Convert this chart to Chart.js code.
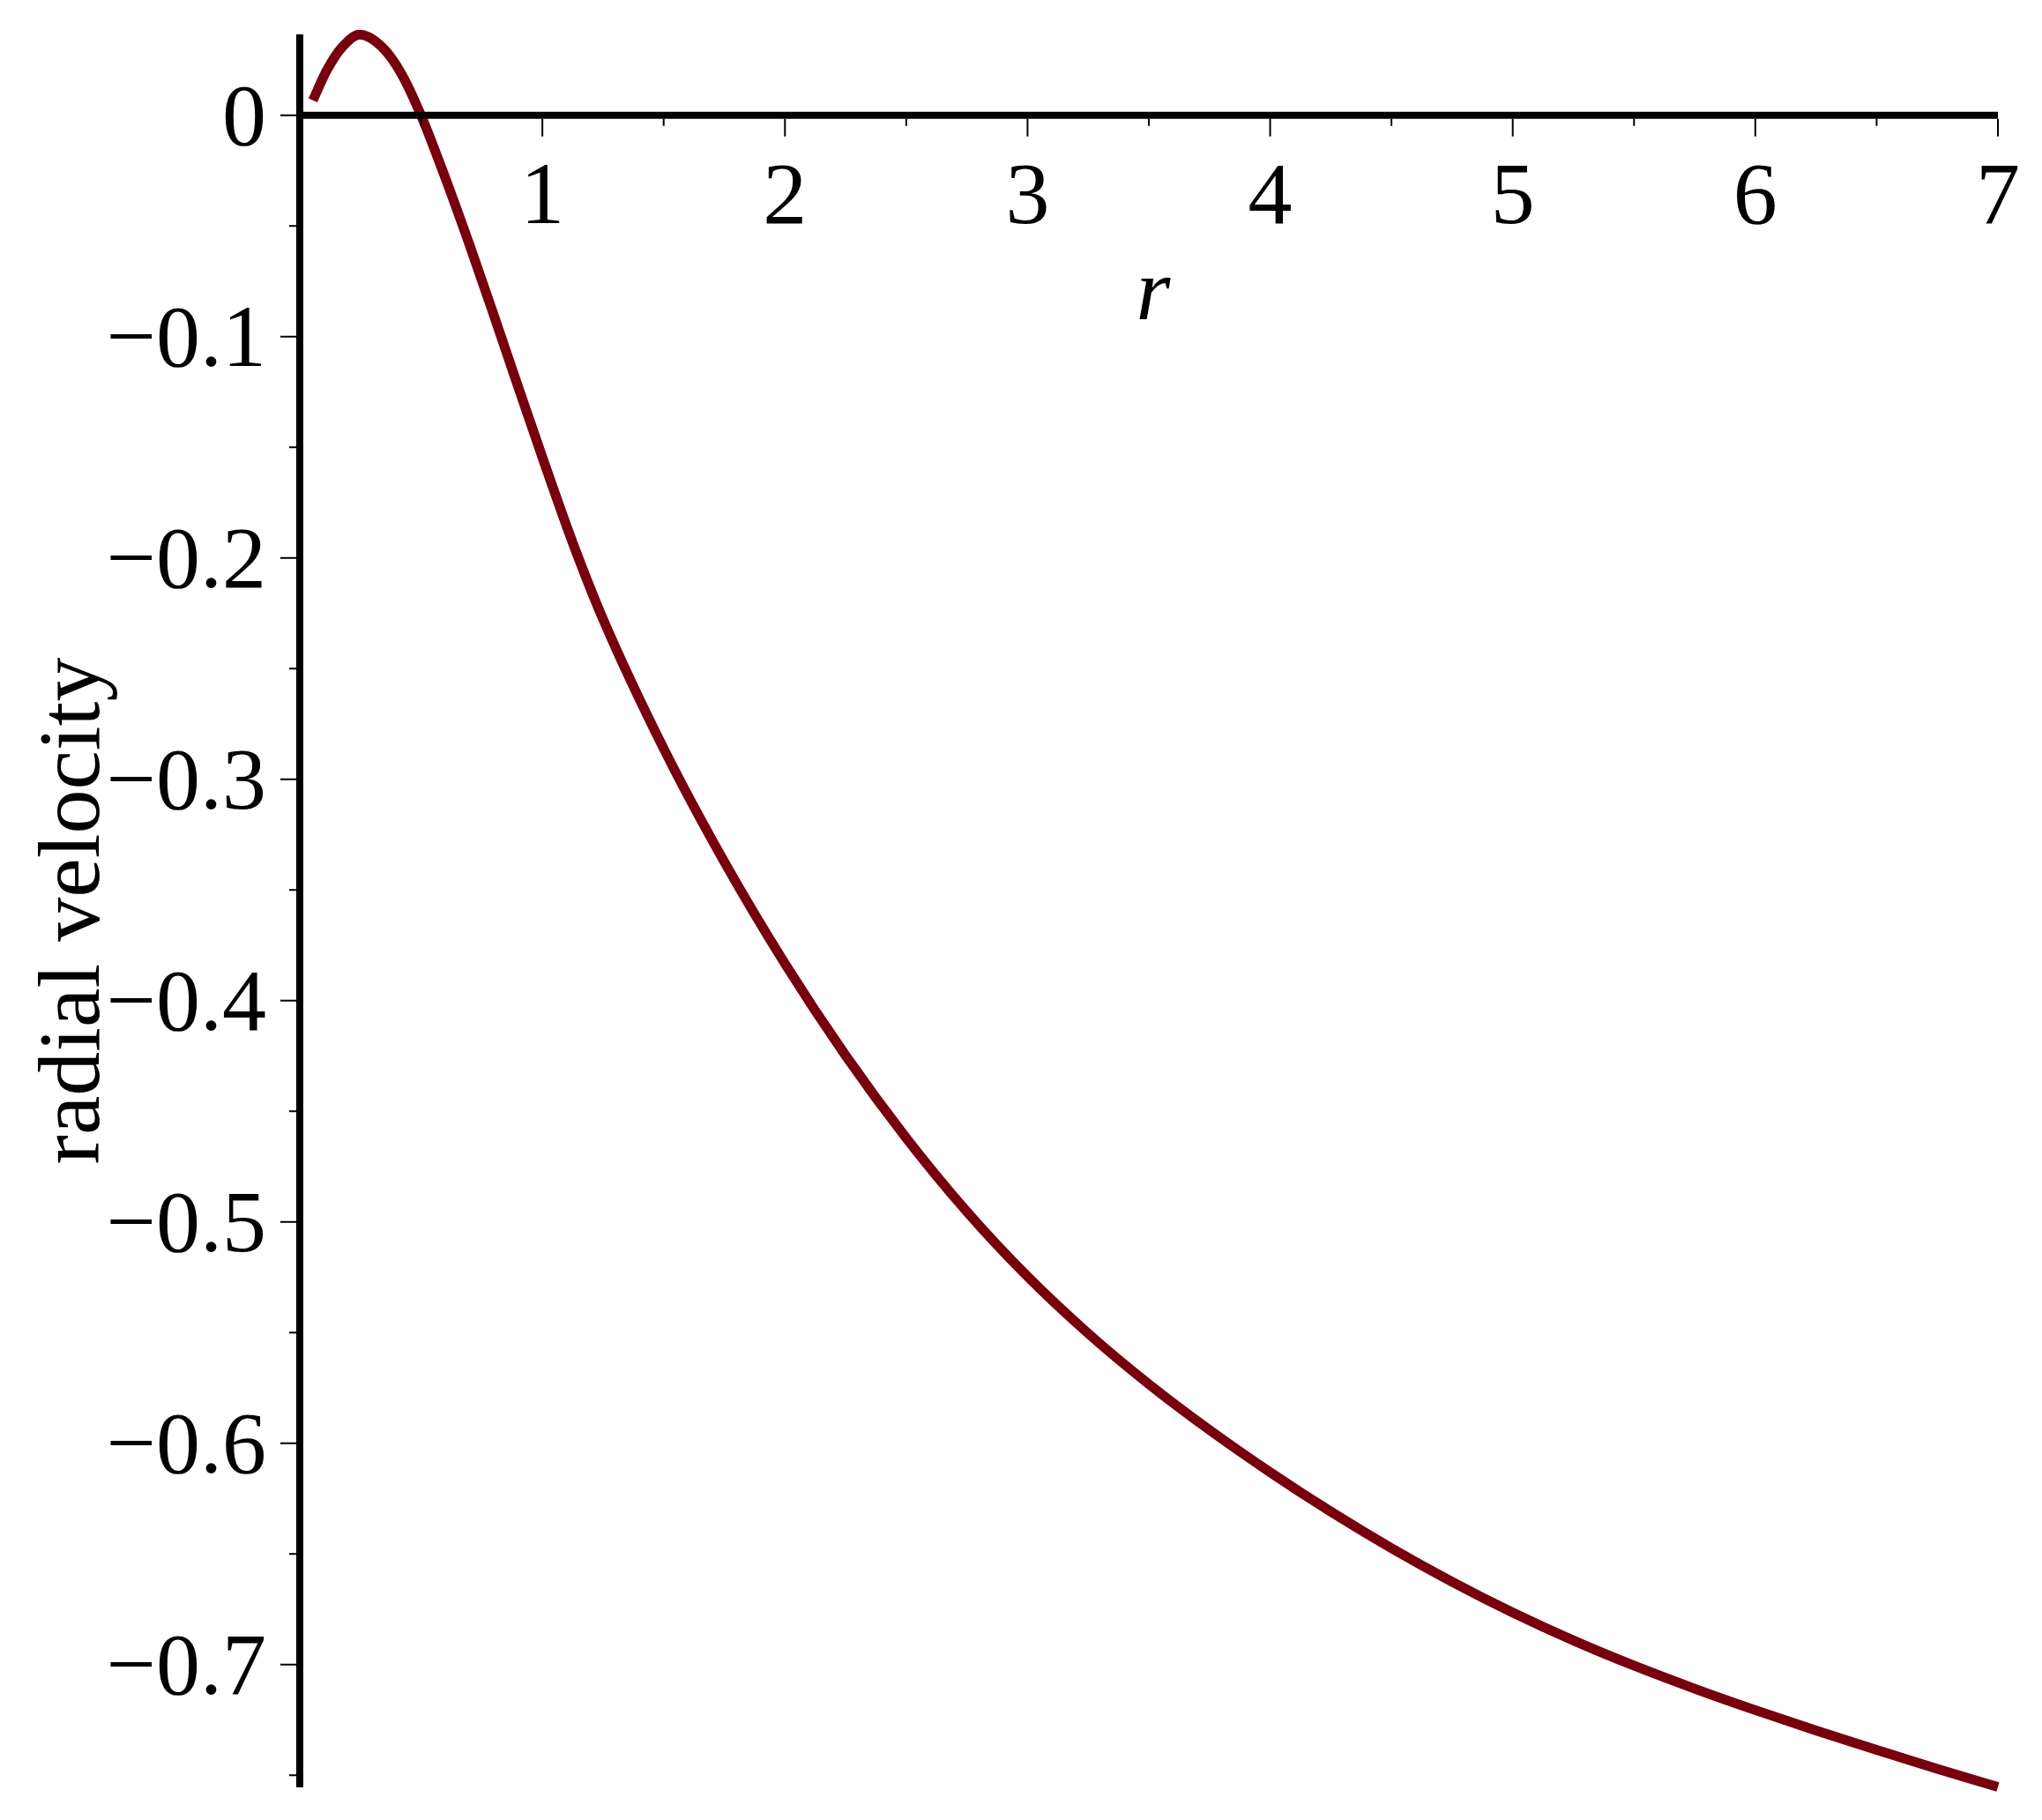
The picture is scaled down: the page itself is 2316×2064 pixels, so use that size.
<!DOCTYPE html>
<html>
<head>
<meta charset="utf-8">
<script src="https://cdn.jsdelivr.net/npm/chart.js@4.4.1/dist/chart.umd.min.js"></script>
<style>
  html, body { margin: 0; padding: 0; background: #ffffff; }
  #wrap { width: 2316px; height: 2064px; }
</style>
</head>
<body>
<div id="wrap"><canvas id="plot" width="2316" height="2064"></canvas></div>
<script>
// radial velocity against r
const rValues = [0.054, 0.111, 0.176, 0.247, 0.338, 0.418, 0.5, 0.6, 0.7, 0.8,
  0.9, 1.0, 1.125, 1.25, 1.5, 1.75, 2.0, 2.25, 2.5, 2.75,
  3.0, 3.25, 3.5, 3.75, 4.0, 4.25, 4.5, 4.75, 5.0, 5.25,
  5.5, 5.75, 6.0, 6.25, 6.5, 6.75, 7.0];
const velocityValues = [0.0068, 0.0203, 0.031, 0.0365, 0.031, 0.019, 0.0, -0.0283, -0.0586, -0.0903,
  -0.1226, -0.1545, -0.1931, -0.2276, -0.2861, -0.3373, -0.3833, -0.4248, -0.4621, -0.4954,
  -0.5247, -0.5504, -0.5733, -0.5940, -0.6131, -0.6309, -0.6474, -0.6626, -0.6765, -0.6891,
  -0.7005, -0.7109, -0.7206, -0.7298, -0.7386, -0.7471, -0.7553];

// axis ticks
const xMajorTicks = [1, 2, 3, 4, 5, 6, 7];
const xMinorTicks = [0.5, 1.5, 2.5, 3.5, 4.5, 5.5, 6.5];
const yMajorTicks = [0, -0.1, -0.2, -0.3, -0.4, -0.5, -0.6, -0.7];
const yMajorLabels = ['0', '\u22120.1', '\u22120.2', '\u22120.3', '\u22120.4', '\u22120.5', '\u22120.6', '\u22120.7'];
const yMinorTicks = [-0.05, -0.15, -0.25, -0.35, -0.45, -0.55, -0.65, -0.75];

const xTitle = 'r';
const yTitle = 'radial velocity';

const FONT = '"Liberation Serif", "Times New Roman", serif';

// Maple style axes: crossing at origin, drawn from the chart scales
const mapleAxes = {
  id: 'mapleAxes',
  afterDatasetsDraw(chart) {
    const ctx = chart.ctx;
    const xs = chart.scales.x;
    const ys = chart.scales.y;
    const area = chart.chartArea;
    const x0 = xs.getPixelForValue(0);
    const y0 = ys.getPixelForValue(0);

    ctx.save();
    ctx.fillStyle = '#000';
    ctx.strokeStyle = '#000';

    // axis lines
    ctx.lineWidth = 8;
    ctx.beginPath();
    ctx.moveTo(x0, area.top);
    ctx.lineTo(x0, area.bottom);
    ctx.stroke();
    ctx.beginPath();
    ctx.moveTo(x0 - 4, y0);
    ctx.lineTo(xs.getPixelForValue(7), y0);
    ctx.stroke();

    // tick marks
    ctx.lineWidth = 2;
    ctx.beginPath();
    xMajorTicks.forEach(v => {
      const px = xs.getPixelForValue(v);
      ctx.moveTo(px, y0 + 4);
      ctx.lineTo(px, y0 + 24);
    });
    xMinorTicks.forEach(v => {
      const px = xs.getPixelForValue(v);
      ctx.moveTo(px, y0 + 4);
      ctx.lineTo(px, y0 + 12);
    });
    yMajorTicks.forEach(v => {
      const py = ys.getPixelForValue(v);
      ctx.moveTo(x0 - 22, py);
      ctx.lineTo(x0 - 4, py);
    });
    yMinorTicks.forEach(v => {
      const py = ys.getPixelForValue(v);
      ctx.moveTo(x0 - 12, py);
      ctx.lineTo(x0 - 4, py);
    });
    ctx.stroke();

    // tick labels
    ctx.font = '100px ' + FONT;
    ctx.textBaseline = 'alphabetic';
    ctx.textAlign = 'center';
    xMajorTicks.forEach(v => {
      ctx.fillText(String(v), xs.getPixelForValue(v), y0 + 122);
    });
    ctx.textAlign = 'right';
    yMajorTicks.forEach((v, i) => {
      ctx.fillText(yMajorLabels[i], x0 - 38, ys.getPixelForValue(v) + 33);
    });

    // axis titles
    ctx.font = 'italic 100px ' + FONT;
    ctx.textAlign = 'center';
    ctx.fillText(xTitle, (area.left + area.right) / 2 + 5, y0 + 231);

    ctx.font = '100px ' + FONT;
    ctx.translate(112, (area.top + area.bottom) / 2);
    ctx.rotate(-Math.PI / 2);
    ctx.fillText(yTitle, 0, 0);
    ctx.restore();
  }
};

new Chart(document.getElementById('plot'), {
  type: 'line',
  data: {
    datasets: [{
      data: rValues.map((r, i) => ({ x: r, y: velocityValues[i] })),
      borderColor: 'rgb(120, 0, 14)',
      borderWidth: 11,
      borderCapStyle: 'butt',
      borderJoinStyle: 'round',
      pointRadius: 0,
      fill: false,
      cubicInterpolationMode: 'monotone',
      clip: false
    }]
  },
  options: {
    responsive: false,
    devicePixelRatio: 1,
    animation: false,
    layout: { padding: { left: 340, right: 50, top: 39, bottom: 37 } },
    plugins: {
      legend: { display: false },
      tooltip: { enabled: false }
    },
    scales: {
      x: { type: 'linear', min: 0, max: 7, display: false },
      y: { type: 'linear', min: -0.7555, max: 0.0366, display: false }
    }
  },
  plugins: [mapleAxes]
});
</script>
</body>
</html>
